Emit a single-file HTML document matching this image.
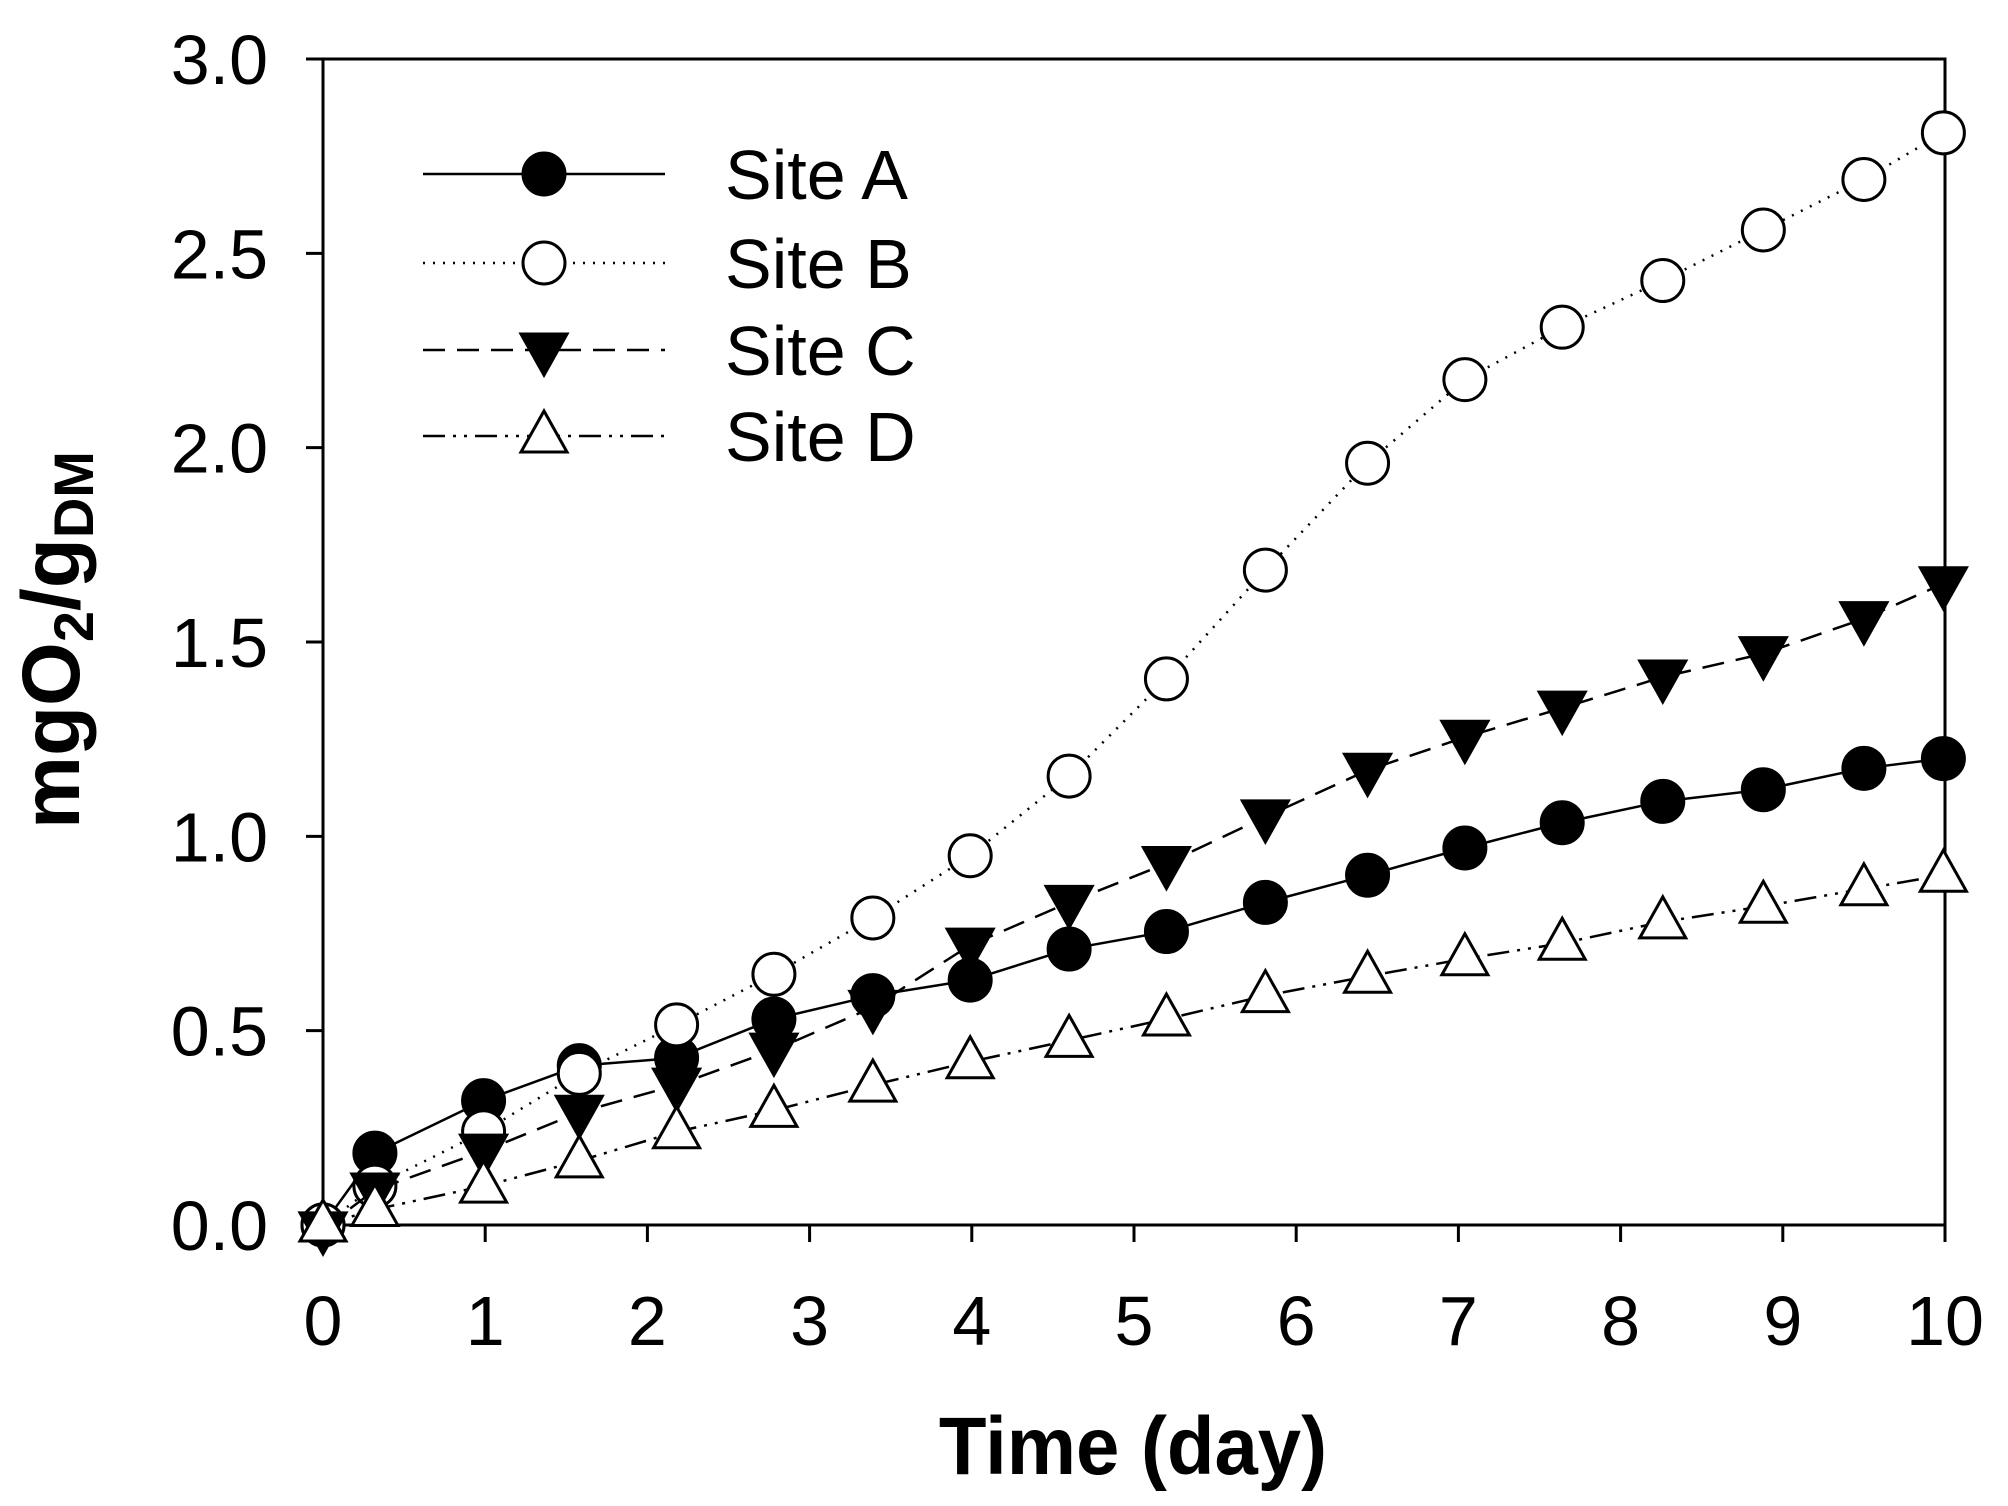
<!DOCTYPE html>
<html><head><meta charset="utf-8"><style>
html,body{margin:0;padding:0;background:#fff;}
svg{display:block;font-family:"Liberation Sans",Arial,sans-serif;}
</style></head><body>
<svg id="chart" width="2008" height="1506" viewBox="0 0 2008 1506">
<g id="axes"></g>
<g id="series"></g>
<g id="legend"></g>
<text x="1133" y="1474" font-size="82" font-weight="bold" text-anchor="middle" transform="translate(1133,0) scale(0.95,1) translate(-1133,0)">Time (day)</text>
<text transform="translate(79,640) rotate(-90)" font-size="82" font-weight="bold" text-anchor="middle">mgO<tspan font-size="56" dy="14">2</tspan><tspan dy="-14">/g</tspan><tspan font-size="56" dy="14">DM</tspan></text>
</svg>
<script>
const days = [0,0.32,0.99,1.58,2.18,2.78,3.39,3.99,4.60,5.20,5.81,6.44,7.04,7.64,8.26,8.88,9.50,9.99];
const siteA = [0,0.185,0.32,0.41,0.43,0.53,0.59,0.63,0.71,0.755,0.83,0.90,0.97,1.035,1.09,1.12,1.175,1.20];
const siteB = [0,0.10,0.24,0.39,0.515,0.645,0.79,0.95,1.155,1.405,1.685,1.96,2.175,2.31,2.43,2.56,2.69,2.81];
const siteC = [-0.01,0.09,0.19,0.29,0.36,0.45,0.56,0.72,0.83,0.93,1.05,1.17,1.255,1.33,1.41,1.47,1.56,1.65];
const siteD = [0,0.04,0.10,0.165,0.24,0.295,0.36,0.42,0.475,0.53,0.59,0.64,0.685,0.725,0.78,0.82,0.865,0.90];
const xTicks = [0,1,2,3,4,5,6,7,8,9,10];
const yTicks = [0,0.5,1.0,1.5,2.0,2.5,3.0];
const yTickLabels = ["0.0","0.5","1.0","1.5","2.0","2.5","3.0"];
const seriesNames = ["Site A","Site B","Site C","Site D"];

const NS="http://www.w3.org/2000/svg";
const L=323,R=1945,T=59,B=1225;
const xs=v=>L+(v-0)/(10-0)*(R-L);
const ys=v=>B-(v-0)/(3-0)*(B-T);
function mk(tag,attrs,parent){const e=document.createElementNS(NS,tag);for(const k in attrs)e.setAttribute(k,attrs[k]);parent.appendChild(e);return e;}
const axes=document.getElementById('axes');
const frame=mk('rect',{x:L,y:T,width:R-L,height:B-T,fill:'none',stroke:'#000','stroke-width':3},axes);


xTicks.forEach(t=>{
  const ln=mk('line',{x1:xs(t),x2:xs(t),y1:B,y2:B+17,stroke:'#000','stroke-width':3},axes);
  
  
  const tx=mk('text',{x:xs(t),y:1345,'font-size':70,'text-anchor':'middle'},axes);
  tx.textContent=String(t);
  
  
});
yTicks.forEach((t,i)=>{
  const ln=mk('line',{x1:L-17,x2:L,y1:ys(t),y2:ys(t),stroke:'#000','stroke-width':3},axes);
  
  
  const tx=mk('text',{x:268,y:ys(t)+25,'font-size':70,'text-anchor':'end'},axes);
  tx.textContent=yTickLabels[i];
  
  
});
const styles=[
  {dash:'',marker:'circle',fill:'#000'},
  {dash:'2,8',marker:'circle',fill:'#fff'},
  {dash:'22,12',marker:'tdown',fill:'#000'},
  {dash:'22,8,3,8,3,8',marker:'tup',fill:'#fff'}
];
function marker(g,type,fill,cx,cy){
  let e;
  if(type==='circle') e=mk('circle',{cx:cx,cy:cy,r:21,fill:fill,stroke:'#000','stroke-width':3},g);
  else if(type==='tdown') e=mk('polygon',{points:`${cx-23},${cy-16} ${cx+23},${cy-16} ${cx},${cy+25}`,fill:fill,stroke:'#000','stroke-width':3},g);
  else e=mk('polygon',{points:`${cx},${cy-25} ${cx-23},${cy+16} ${cx+23},${cy+16}`,fill:fill,stroke:'#000','stroke-width':3},g);
  return e;
}
const sg=document.getElementById('series');
const data=[siteA,siteB,siteC,siteD];
data.forEach((vals,si)=>{
  const g=mk('g',{},sg);
  
  
  const pts=vals.map((v,i)=>xs(days[i])+','+ys(v)).join(' ');
  const pl=mk('polyline',{points:pts,fill:'none',stroke:'#000','stroke-width':2.5,'stroke-dasharray':styles[si].dash},g);
  
  
  vals.forEach((v,i)=>{
    const m=marker(g,styles[si].marker,styles[si].fill,xs(days[i]),ys(v));
    
    
  });
});
const lg=document.getElementById('legend');
const rowsY=[174,263,350,436];
seriesNames.forEach((n,i)=>{
  const g=mk('g',{},lg);
  
  
  mk('line',{x1:423,x2:665,y1:rowsY[i],y2:rowsY[i],stroke:'#000','stroke-width':2.5,'stroke-dasharray':styles[i].dash},g);
  marker(g,styles[i].marker,styles[i].fill,544,rowsY[i]);
  const t=mk('text',{x:725,y:rowsY[i]+25,'font-size':70},g);
  t.textContent=n;
});
</script>
</body></html>
